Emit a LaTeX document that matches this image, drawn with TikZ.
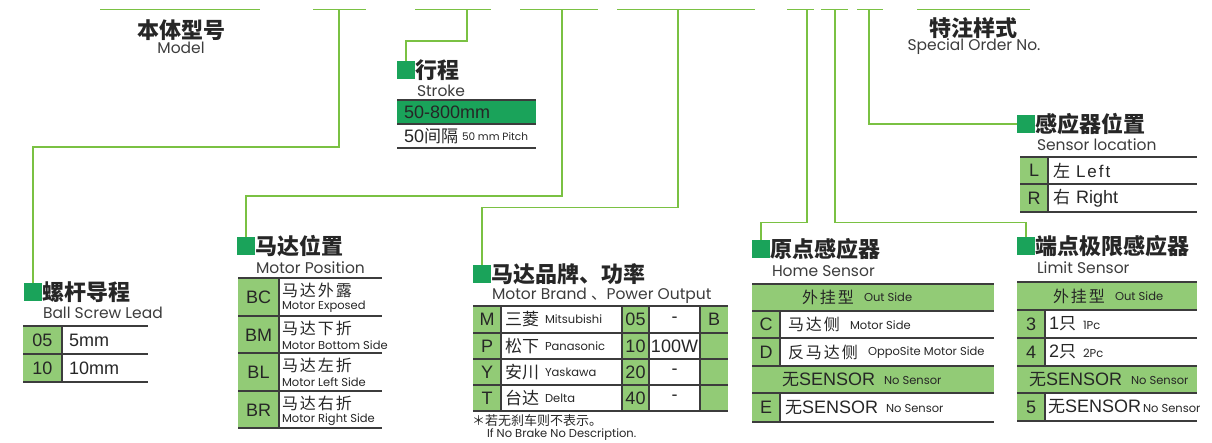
\documentclass[tikz,border=0pt]{standalone}
\usepackage{fontspec}
\setmainfont{Liberation Sans}
\newfontfamily\cjk{Noto Sans CJK SC}
\newfontfamily\cjksp{Noto Sans CJK SC}[LetterSpace=12]
\newfontfamily\geo{Poppins}
\definecolor{lgreen}{RGB}{122,193,67}
\definecolor{sqgreen}{RGB}{26,163,90}
\definecolor{cellgreen}{RGB}{146,203,118}
\definecolor{tgray}{RGB}{60,60,60}
\definecolor{txt}{RGB}{38,38,38}
\definecolor{subtxt}{RGB}{60,60,60}
\newcommand\ttl[1]{{\cjk\bfseries\fontsize{22}{22}\selectfont #1}}
\newcommand\engsub[1]{{\geo\fontsize{15.5}{16}\selectfont #1}}
\newcommand\tbl[1]{{\fontsize{18}{18}\selectfont #1}}
\newcommand\tcj[1]{{\cjk\fontsize{17}{17}\selectfont #1}}
\newcommand\tcjs[1]{{\cjksp\fontsize{16}{16}\selectfont #1}}
\newcommand\sml[1]{{\geo\fontsize{11.5}{12}\selectfont #1}}
\begin{document}
\begin{tikzpicture}[x=1pt,y=-1pt,
  every node/.style={inner sep=0pt, outer sep=0pt, text=txt},
  conn/.style={draw=lgreen, line width=1.6pt},
  sq/.style={fill=sqgreen, minimum size=18pt},
  tline/.style={draw=tgray, line width=1.8pt},
  cellg/.style={fill=cellgreen},
  lft/.style={anchor=west}]
\useasboundingbox (0,0) rectangle (1212,443);

% top bar segments
\foreach \a/\b in {100/260,313/366,415/491,520/598,617/755,787/814,821/848,857/883,917/1030}
  \draw[conn] (\a,9.5) -- (\b,9.5);

% header titles
\node (tmodel) at (181,30) {\ttl{本体型号}};
\node (smodel) at (181,48) {\textcolor{subtxt}{\engsub{Model}}};
\node (tspec) at (973,28) {\ttl{特注样式}};
\node (sspec) at (974,47) {\textcolor{subtxt}{\engsub{Special Order No.}}};

% squares
\node[sq] (qball) at (33,292) {};
\node[sq] (qstroke) at (406,70) {};
\node[sq] (qpos) at (246,246) {};
\node[sq] (qbrand) at (482,274) {};
\node[sq] (qhome) at (761,249.5) {};
\node[sq] (qlimit) at (1026,246) {};
\node[sq] (qloc) at (1026,124) {};

% drop coordinates
\coordinate (d1) at (339,9.5);
\coordinate (d2) at (467,9.5);
\coordinate (d3) at (562,9.5);
\coordinate (d4) at (678,9.5);
\coordinate (d5) at (807,9.5);
\coordinate (d6) at (835,9.5);
\coordinate (d7) at (869,9.5);

% connectors
\draw[conn] (d1) -- ++(0,137.5) -| (qball.north);
\draw[conn] (d2) -- ++(0,31.5) -| (qstroke.north);
\draw[conn] (d3) -- ++(0,186.5) -| (qpos.north);
\draw[conn] (d4) -- ++(0,198) -| (qbrand.north);
\draw[conn] (d5) -- ++(0,213) -| (qhome.north);
\draw[conn] (d6) -- ++(0,213) -| (qlimit.north);
\draw[conn] (d7) |- (qloc.west);

% ---------- Ball screw lead ----------
\node[lft] (tball) at (qball.east) {\ttl{螺杆导程}};
\node[lft] (sball) at (43,313) {\textcolor{subtxt}{\engsub{Ball Screw Lead}}};
\fill[cellg] (23,326) rectangle (62,382);
\draw[tline] (23,326) -- (148,326) (23,354) -- (148,354) (23,382) -- (148,382);
\draw[tline] (62,326) -- (62,382);
\node (b05) at (42.5,340) {\tbl{05}};
\node[lft] (b5mm) at (69,340) {\tbl{5mm}};
\node (b10) at (42.5,368) {\tbl{10}};
\node[lft] (b10mm) at (69,368) {\tbl{10mm}};

% ---------- Stroke ----------
\node[lft] (tstroke) at (qstroke.east) {\ttl{行程}};
\node[lft] (sstroke) at (417,91) {\textcolor{subtxt}{\engsub{Stroke}}};
\fill[sqgreen] (397,100) rectangle (536,124);
\draw[tline] (397,100) -- (536,100) (397,124) -- (536,124) (397,148) -- (536,148);
\node[lft] (st1) at (404,112) {\tbl{50-800mm}};
\node[lft] (st2) at (404,136) {\tbl{50}\tcj{间隔}};
\node[lft] (st3) at (462,137) {{\geo\fontsize{10.5}{11}\selectfont 50 mm Pitch}};

% ---------- Motor position ----------
\node[lft] (tpos) at (qpos.east) {\ttl{马达位置}};
\node[lft] (spos) at (256,268) {\textcolor{subtxt}{\engsub{Motor Position}}};
\fill[cellg] (238,278) rectangle (279,428);
\draw[tline] (238,278) -- (382,278) (238,316) -- (382,316) (238,353) -- (382,353)
             (238,391) -- (382,391) (238,428) -- (382,428);
\draw[tline] (279,278) -- (279,428);
\foreach \c/\cj/\en/\y [count=\i] in {BC/马达外露/Motor Exposed/278,BM/马达下折/Motor Bottom Side/316,BL/马达左折/Motor Left Side/353,BR/马达右折/Motor Right Side/391}{
  \node (pc\i) at (258.5,\y+19) {\tbl{\c}};
  \node[lft] (pj\i) at (282,\y+12.5) {\tcjs{\cj}};
  \node[lft] (pe\i) at (282,\y+29) {\sml{\en}};
}

% ---------- Motor brand / power ----------
\node[lft] (tbrand) at (qbrand.east) {\ttl{马达品牌、功率}};
\node[lft] (sbrand) at (492,296) {\textcolor{subtxt}{\engsub{Motor Brand {\cjk 、}Power Output}}};
\fill[cellg] (473,306) rectangle (501,411);
\fill[cellg] (622,306) rectangle (649,411);
\fill[cellg] (700,306) rectangle (728,411);
\draw[tline] (473,306) -- (728,306) (473,333) -- (728,333) (473,359) -- (728,359)
             (473,385) -- (728,385) (473,411) -- (728,411);
\draw[tline] (501,306) -- (501,411) (622,306) -- (622,411) (649,306) -- (649,411) (700,306) -- (700,411);
\foreach \c/\cj/\en/\n/\p/\ym [count=\i] in {M/三菱/Mitsubishi/05/-/319.5,P/松下/Panasonic/10/100W/346,Y/安川/Yaskawa/20/-/372,T/台达/Delta/40/-/398}{
  \node (mc\i) at (487,\ym) {\tbl{\c}};
  \node[lft] (mj\i) at (505,\ym) {\tcj{\cj}};
  \node[lft] (me\i) at (545,\ym) {\sml{\en}};
  \node (mn\i) at (635.5,\ym) {\tbl{\n}};
  \node (mp\i) at (674.5,\ym) {\tbl{\p}};
}
\node (mb) at (714,319.5) {\tbl{B}};
\node[lft] (fn1) at (472,420.5) {{\cjk\fontsize{13}{13}\selectfont ＊若无刹车则不表示。}};
\node[lft] (fn2) at (487,435) {\sml{If No Brake No Description.}};

% ---------- Home sensor ----------
\node[lft] (thome) at (qhome.east) {\ttl{原点感应器}};
\node[lft] (shome) at (772,271) {\textcolor{subtxt}{\engsub{Home Sensor}}};
\fill[cellg] (752,284) rectangle (994,311);
\fill[cellg] (752,366) rectangle (994,393);
\fill[cellg] (752,311) rectangle (780,366);
\fill[cellg] (752,393) rectangle (780,422);
\draw[tline] (752,284) -- (994,284) (752,311) -- (994,311) (752,338) -- (994,338)
             (752,366) -- (994,366) (752,393) -- (994,393) (752,422) -- (994,422);
\draw[tline] (780,311) -- (780,366) (780,393) -- (780,422);
\node[lft] (hh1) at (802,297.5) {\tcjs{外挂型}};
\node[lft] (hh2) at (864,297.5) {\sml{Out Side}};
\node (hc) at (766,324.5) {\tbl{C}};
\node[lft] (hcj) at (788,324.5) {\tcjs{马达侧}};
\node[lft] (hce) at (850,325) {\sml{Motor Side}};
\node (hd) at (766,352) {\tbl{D}};
\node[lft] (hdj) at (788,352) {\tcjs{反马达侧}};
\node[lft] (hde) at (868,352.5) {\sml{OppoSite Motor Side}};
\node[lft] (hn1) at (782,379.5) {\tcj{无}\tbl{SENSOR}};
\node[lft] (hn2) at (884,380.5) {\sml{No Sensor}};
\node (he) at (766,407.5) {\tbl{E}};
\node[lft] (hej) at (785,407.5) {\tcj{无}\tbl{SENSOR}};
\node[lft] (hee) at (886,408.5) {\sml{No Sensor}};

% ---------- Limit sensor ----------
\node[lft] (tlimit) at (qlimit.east) {\ttl{端点极限感应器}};
\node[lft] (slimit) at (1037,268) {\textcolor{subtxt}{\engsub{Limit Sensor}}};
\fill[cellg] (1017,282) rectangle (1197,310);
\fill[cellg] (1017,366) rectangle (1197,393);
\fill[cellg] (1017,310) rectangle (1045,366);
\fill[cellg] (1017,393) rectangle (1045,421);
\draw[tline] (1017,282) -- (1197,282) (1017,310) -- (1197,310) (1017,338) -- (1197,338)
             (1017,366) -- (1197,366) (1017,393) -- (1197,393) (1017,421) -- (1197,421);
\draw[tline] (1045,310) -- (1045,366) (1045,393) -- (1045,421);
\node[lft] (lh1) at (1053,296) {\tcjs{外挂型}};
\node[lft] (lh2) at (1115,296) {\sml{Out Side}};
\node (l3) at (1031,324) {\tbl{3}};
\node[lft] (l3j) at (1049,324) {\tbl{1}\tcj{只}};
\node[lft] (l3e) at (1083,325) {\sml{1Pc}};
\node (l4) at (1031,352) {\tbl{4}};
\node[lft] (l4j) at (1049,352) {\tbl{2}\tcj{只}};
\node[lft] (l4e) at (1083,353) {\sml{2Pc}};
\node[lft] (ln1) at (1029,379.5) {\tcj{无}\tbl{SENSOR}};
\node[lft] (ln2) at (1131,380.5) {\sml{No Sensor}};
\node (l5) at (1031,407) {\tbl{5}};
\node[lft] (l5j) at (1048,407) {\tcj{无}\tbl{SENSOR}};
\node[lft] (l5e) at (1143,408) {\sml{No Sensor}};

% ---------- Sensor location ----------
\node[lft] (tloc) at (qloc.east) {\ttl{感应器位置}};
\node[lft] (sloc) at (1037,145) {\textcolor{subtxt}{\engsub{Sensor location}}};
\fill[cellg] (1020,157) rectangle (1048,212);
\draw[tline] (1020,157) -- (1197,157) (1020,184) -- (1197,184) (1020,212) -- (1197,212);
\draw[tline] (1048,157) -- (1048,212);
\node (ll) at (1034,170.5) {\tbl{L}};
\node[lft] (llj) at (1053,170.5) {\tcj{左}\hspace{6pt}{\fontsize{17}{17}\selectfont L\hspace{2pt}e\hspace{2pt}f\hspace{2pt}t}};
\node (lr) at (1034,198) {\tbl{R}};
\node[lft] (lrj) at (1053,198) {\tcj{右}\hspace{6pt}\tbl{Right}};
\end{tikzpicture}
\end{document}
